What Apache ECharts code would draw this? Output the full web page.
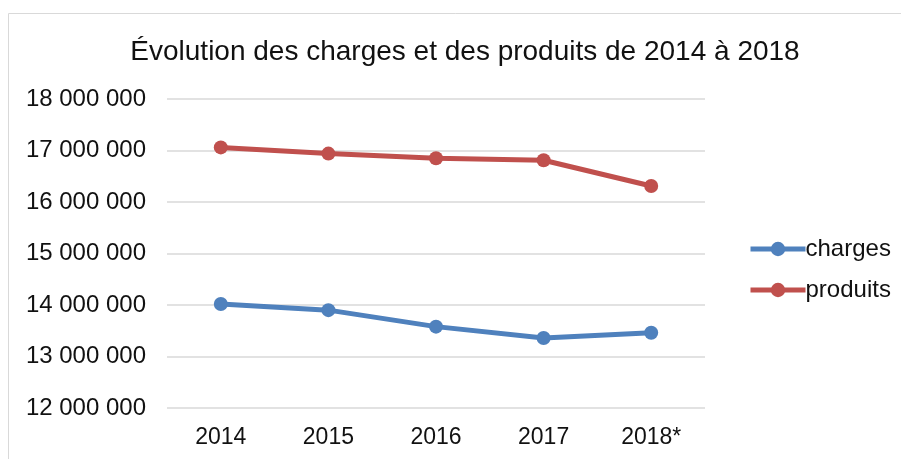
<!DOCTYPE html>
<html>
<head>
<meta charset="utf-8">
<script src="https://cdn.jsdelivr.net/npm/echarts@6/dist/echarts.min.js"></script>
<style>
  html, body { margin: 0; padding: 0; background: #fff; }
  #chart { width: 901px; height: 459px; }
</style>
</head>
<body>
<div id="chart"></div>
<script>
const years = ['2014', '2015', '2016', '2017', '2018*']
const charges = [14020000, 13900000, 13580000, 13360000, 13460000]
const produits = [17060000, 16940000, 16850000, 16810000, 16310000]
const yTicks = { min: 12000000, max: 18000000, step: 1000000 }

const font = 'Liberation Sans, Arial, sans-serif'

// 18000000 -> "18 000 000"
function fmt(v) {
  return String(v).replace(/\B(?=(\d{3})+(?!\d))/g, ' ')
}

const chart = echarts.init(document.getElementById('chart'))
chart.setOption({
  animation: false,
  textStyle: { fontFamily: font },
  graphic: [{
    type: 'rect',
    shape: { x: 8.5, y: 13.5, width: 1000, height: 1000 },
    style: { fill: 'none', stroke: '#d9d9d9', lineWidth: 1 },
    silent: true
  }],
  title: {
    text: 'Évolution des charges et des produits de 2014 à 2018',
    left: 460,
    top: 33,
    textAlign: 'center',
    textStyle: { fontFamily: font, fontSize: 28, fontWeight: 'normal', color: '#111' }
  },
  legend: {
    orient: 'vertical',
    left: 743,
    top: 232,
    itemWidth: 55,
    itemHeight: 18,
    itemGap: 17,
    lineStyle: { width: 5 },
    textStyle: { fontFamily: font, fontSize: 24, color: '#111', padding: [0, 0, 0, -5] },
    data: ['charges', 'produits']
  },
  grid: { left: 167, right: 196, top: 99, bottom: 51 },
  xAxis: {
    type: 'category',
    data: years,
    boundaryGap: true,
    axisLine: { show: false },
    axisTick: { show: false },
    axisLabel: { fontFamily: font, fontSize: 23, color: '#111', margin: 18 }
  },
  yAxis: {
    type: 'value',
    min: yTicks.min,
    max: yTicks.max,
    interval: yTicks.step,
    axisLine: { show: false },
    axisTick: { show: false },
    splitLine: { lineStyle: { color: '#d9d9d9', width: 1.5 } },
    axisLabel: { fontFamily: font, fontSize: 24, color: '#111', margin: 21, formatter: fmt }
  },
  series: [
    {
      name: 'charges',
      type: 'line',
      data: charges,
      symbol: 'circle',
      symbolSize: 14,
      color: '#4f81bd',
      lineStyle: { width: 5, color: '#4f81bd' },
      itemStyle: { color: '#4f81bd' }
    },
    {
      name: 'produits',
      type: 'line',
      data: produits,
      symbol: 'circle',
      symbolSize: 14,
      color: '#c0504d',
      lineStyle: { width: 5, color: '#c0504d' },
      itemStyle: { color: '#c0504d' }
    }
  ]
})
</script>
</body>
</html>
